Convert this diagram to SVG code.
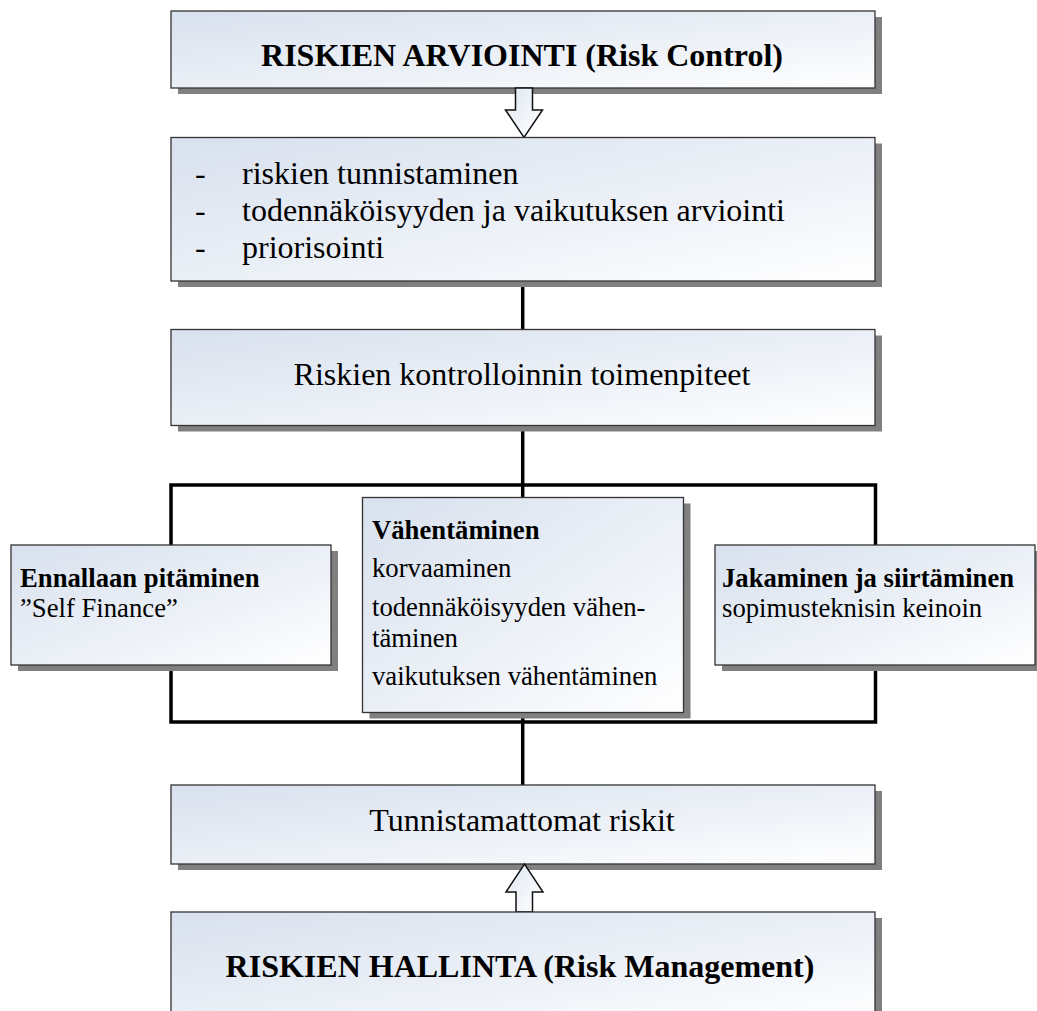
<svg xmlns="http://www.w3.org/2000/svg" width="1037" height="1011" viewBox="0 0 1037 1011">
  <defs>
    <linearGradient id="boxFill" x1="0" y1="0" x2="1" y2="1">
      <stop offset="0" stop-color="#d8e1ee"/>
      <stop offset="0.6" stop-color="#eef2f8"/>
      <stop offset="1" stop-color="#ffffff"/>
    </linearGradient>
    <linearGradient id="arrowFill" x1="0" y1="0" x2="1" y2="1">
      <stop offset="0" stop-color="#dfe7f2"/>
      <stop offset="1" stop-color="#ffffff"/>
    </linearGradient>
  </defs>
  <style>
    .shadow { fill: #808080; }
    .box { fill: url(#boxFill); stroke: #333333; stroke-width: 1.3; }
    .blockarrow { fill: url(#arrowFill); stroke: #111111; stroke-width: 1.5; stroke-linejoin: miter; }
    .link { stroke: #000000; stroke-width: 3.5; fill: none; }
    .frame { stroke: #000000; stroke-width: 3.5; fill: none; }
    text { font-family: "Liberation Serif", "Times New Roman", serif; fill: #000000; }
    .title { font-size: 32px; font-weight: bold; }
    .body { font-size: 32px; }
    .small { font-size: 26.7px; }
    .small-b { font-size: 26.7px; font-weight: bold; }
  </style>

  <rect width="1037" height="1011" fill="#ffffff"/>

  <!-- connectors -->
  <g id="connectors">
    <line class="link" x1="522.7" y1="281" x2="522.7" y2="330"/>
    <line class="link" x1="522.7" y1="425" x2="522.7" y2="498"/>
    <rect class="frame" x="171" y="485" width="704.5" height="237"/>
    <line class="link" x1="522.7" y1="712" x2="522.7" y2="785"/>
  </g>

  <!-- top title -->
  <g id="risk-control">
    <rect class="shadow" x="178" y="17" width="704" height="77"/>
    <rect class="box" x="171" y="11" width="704" height="77"/>
    <text class="title" x="522" y="66" text-anchor="middle">RISKIEN ARVIOINTI (Risk Control)</text>
  </g>

  <!-- block arrow down -->
  <g id="arrow-down">
    <path class="blockarrow" d="M515.5,88 L532.5,88 L532.5,110 L542.5,110 L524,137.5 L505.5,110 L515.5,110 Z"/>
  </g>

  <!-- assessment steps -->
  <g id="assessment">
    <rect class="shadow" x="178" y="143.5" width="704" height="143.5"/>
    <rect class="box" x="171" y="137.5" width="704" height="143.5"/>
    <text class="body" x="195" y="184">-</text>
    <text class="body" x="242" y="184">riskien tunnistaminen</text>
    <text class="body" x="195" y="221">-</text>
    <text class="body" x="242" y="221">todennäköisyyden ja vaikutuksen arviointi</text>
    <text class="body" x="195" y="258">-</text>
    <text class="body" x="242" y="258">priorisointi</text>
  </g>

  <!-- control measures -->
  <g id="control-measures">
    <rect class="shadow" x="178" y="335.5" width="704" height="96"/>
    <rect class="box" x="171" y="329.5" width="704" height="96"/>
    <text class="body" x="522" y="385" text-anchor="middle">Riskien kontrolloinnin toimenpiteet</text>
  </g>

  <!-- retention -->
  <g id="retention">
    <rect class="shadow" x="18" y="551" width="320" height="120"/>
    <rect class="box" x="11" y="545" width="320" height="120"/>
    <text class="small-b" x="20" y="587">Ennallaan pitäminen</text>
    <text class="small" x="20" y="617">”Self Finance”</text>
  </g>

  <!-- reduction -->
  <g id="reduction">
    <rect class="shadow" x="369.5" y="503.5" width="321" height="215"/>
    <rect class="box" x="362.5" y="497.5" width="321" height="215"/>
    <text class="small-b" x="372" y="538.5">Vähentäminen</text>
    <text class="small" x="372" y="577">korvaaminen</text>
    <text class="small" x="372" y="616">todennäköisyyden vähen-</text>
    <text class="small" x="372" y="647">täminen</text>
    <text class="small" x="372" y="685">vaikutuksen vähentäminen</text>
  </g>

  <!-- sharing and transfer -->
  <g id="transfer">
    <rect class="shadow" x="722" y="551" width="320" height="120"/>
    <rect class="box" x="715" y="545" width="320" height="120"/>
    <text class="small-b" x="722" y="587">Jakaminen ja siirtäminen</text>
    <text class="small" x="722" y="617">sopimusteknisin keinoin</text>
  </g>

  <!-- unidentified risks -->
  <g id="unidentified">
    <rect class="shadow" x="178" y="791" width="704" height="79"/>
    <rect class="box" x="171" y="785" width="704" height="79"/>
    <text class="body" x="522" y="831" text-anchor="middle">Tunnistamattomat riskit</text>
  </g>

  <!-- block arrow up -->
  <g id="arrow-up">
    <path class="blockarrow" d="M516,912 L532.5,912 L532.5,892 L543,892 L524.5,864 L506,892 L516,892 Z"/>
  </g>

  <!-- bottom title -->
  <g id="risk-management">
    <rect class="shadow" x="178" y="918" width="704" height="110"/>
    <rect class="box" x="171" y="912" width="704" height="110"/>
    <text class="title" x="520" y="977" text-anchor="middle">RISKIEN HALLINTA (Risk Management)</text>
  </g>
</svg>
